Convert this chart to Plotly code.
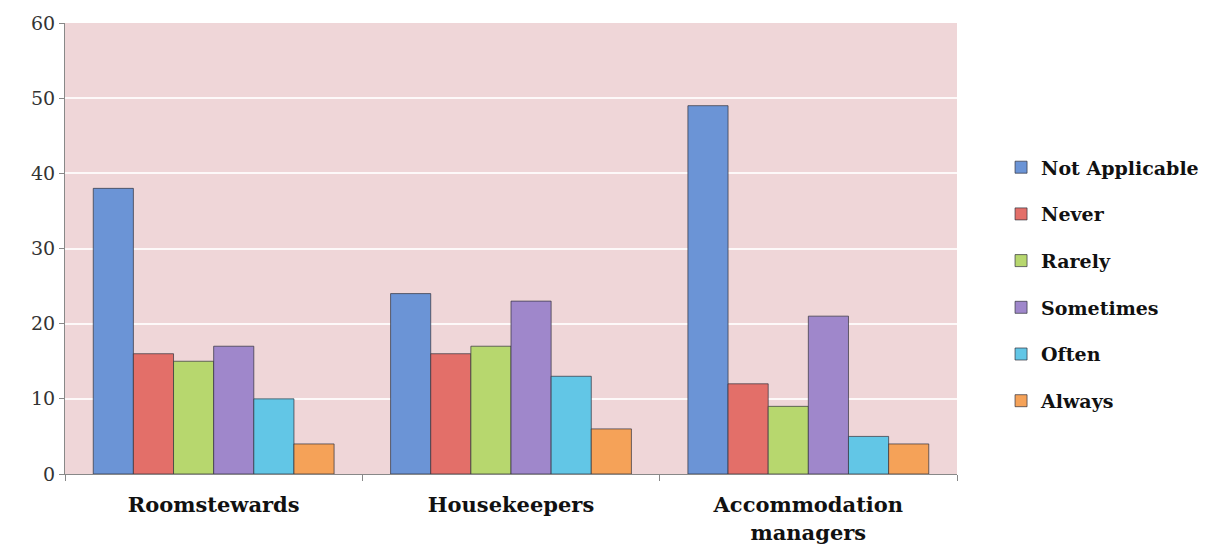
import plotly.graph_objects as go

categories = ["Roomstewards", "Housekeepers", "Accommodation<br>managers"]
series_names = ["Not Applicable", "Never", "Rarely", "Sometimes", "Often", "Always"]
not_applicable = [38, 24, 49]
never = [16, 16, 12]
rarely = [15, 17, 9]
sometimes = [17, 23, 21]
often = [10, 13, 5]
always = [4, 6, 4]
y_ticks = [0, 10, 20, 30, 40, 50, 60]

values = [not_applicable, never, rarely, sometimes, often, always]
colors = ["#6b94d6", "#e36f69", "#b7d76e", "#9f87cb", "#62c6e6", "#f5a258"]

fig = go.Figure()
for i, (name, vals, col) in enumerate(zip(series_names, values, colors)):
    fig.add_trace(go.Bar(
        x=categories, y=vals, name=name, legendgroup=name,
        marker=dict(color=col, line=dict(color="rgba(50,50,60,0.7)", width=1)),
    ))

serif = "DejaVu Serif"
fig.update_layout(
    width=1209, height=550,
    margin=dict(l=65, r=252, t=23, b=76),
    paper_bgcolor="white",
    plot_bgcolor="#efd6d8",
    barmode="group",
    bargap=0.19,
    bargroupgap=0,
    legend=dict(
        xref="container", yref="container",
        x=0.828, y=0.483, xanchor="left", yanchor="middle",
        font=dict(family=serif, size=19, color="#111111", weight="bold"),
        traceorder="grouped", tracegroupgap=19,
        itemwidth=30,
    ),
    xaxis=dict(
        tickfont=dict(family=serif, size=21, color="#111111", weight="bold"),
        showline=True, linecolor="#888888", linewidth=1,
        ticks="outside", tickson="boundaries", ticklen=6, tickcolor="#888888",
        ticklabelstandoff=12,
        showgrid=False, automargin=False,
    ),
    yaxis=dict(
        range=[0, 60], tickvals=y_ticks,
        tickfont=dict(family=serif, size=19, color="#333333"),
        showline=True, linecolor="#888888", linewidth=1,
        ticks="outside", ticklen=5, tickcolor="#888888",
        showgrid=True, gridcolor="rgba(255,255,255,0.85)", gridwidth=2,
        zeroline=False, automargin=False,
    ),
)

fig.write_html("out.html")
